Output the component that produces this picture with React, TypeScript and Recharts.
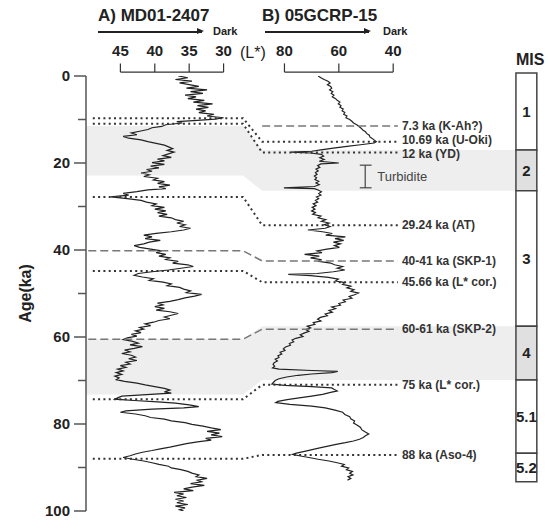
import React from 'react';
import {
  ComposedChart,
  Line,
  Area,
  XAxis,
  YAxis,
  ReferenceLine,
  ReferenceArea,
  ReferenceDot,
} from 'recharts';

const FONT = '"Liberation Sans", Arial, sans-serif';

// MD01-2407 colour record: [age (ka), L*]
const coreA: [number, number][] = [
  [0.0, 36.6], [0.4, 35.2], [0.8, 37.0], [1.2, 34.6], [1.6, 36.4], [2.0, 35.0], [2.4, 33.6], [2.8, 35.4],
  [3.2, 32.4], [3.6, 34.8], [4.0, 33.0], [4.4, 35.6], [4.8, 34.0], [5.2, 35.2], [5.6, 32.8], [6.0, 34.4],
  [6.4, 31.6], [6.8, 33.8], [7.2, 32.2], [7.6, 34.0], [8.0, 32.6], [8.4, 33.6], [8.8, 31.4], [9.2, 32.4],
  [9.6, 30.0], [9.9, 31.2], [10.2, 33.8], [10.5, 36.8], [10.8, 36.0], [11.2, 38.4], [11.6, 39.0], [11.9, 40.4],
  [12.3, 41.0], [12.7, 42.2], [13.1, 43.4], [13.5, 42.6], [13.9, 44.6], [14.3, 43.8], [14.7, 42.0], [15.1, 41.0],
  [15.5, 39.8], [15.9, 38.6], [16.3, 38.0], [16.7, 37.4], [17.1, 38.2], [17.5, 37.2], [17.9, 38.0], [18.3, 38.8],
  [18.7, 37.6], [19.1, 39.6], [19.5, 38.6], [19.9, 40.4], [20.3, 38.6], [20.7, 40.6], [21.1, 39.4], [21.5, 41.2],
  [21.9, 40.4], [22.3, 42.0], [22.7, 40.8], [23.1, 41.6], [23.5, 39.6], [23.9, 40.2], [24.3, 38.6], [24.7, 39.6],
  [25.1, 37.8], [25.5, 39.4], [25.9, 38.4], [26.2, 41.0], [26.6, 42.6], [27.0, 44.6], [27.4, 43.8], [27.8, 46.4],
  [28.2, 44.0], [28.6, 42.0], [29.0, 41.2], [29.4, 39.8], [29.8, 40.4], [30.2, 38.6], [30.6, 40.0], [31.0, 38.4],
  [31.4, 39.6], [31.8, 38.2], [32.2, 39.4], [32.6, 37.6], [33.0, 37.0], [33.4, 35.8], [33.8, 36.8], [34.2, 35.6],
  [34.6, 36.4], [35.0, 34.8], [35.4, 35.8], [35.8, 37.6], [36.2, 39.8], [36.6, 41.6], [37.0, 40.4], [37.4, 41.4],
  [37.8, 39.2], [38.2, 40.8], [38.6, 41.6], [39.0, 43.0], [39.4, 42.2], [39.8, 40.6], [40.2, 39.0], [40.6, 39.8],
  [41.0, 38.4], [41.4, 39.4], [41.8, 37.8], [42.2, 38.4], [42.6, 36.6], [43.0, 37.4], [43.4, 35.2], [43.8, 34.4],
  [44.2, 36.2], [44.6, 38.0], [45.0, 40.4], [45.4, 42.4], [45.8, 43.0], [46.2, 41.8], [46.6, 40.2], [47.0, 40.8],
  [47.4, 38.8], [47.8, 37.6], [48.2, 38.2], [48.6, 36.4], [49.0, 35.8], [49.4, 34.8], [49.8, 35.4], [50.2, 33.2],
  [50.6, 34.2], [51.0, 35.6], [51.4, 36.6], [51.8, 37.8], [52.2, 39.6], [52.6, 38.8], [53.0, 40.0], [53.4, 38.6],
  [53.8, 39.8], [54.2, 37.8], [54.6, 36.6], [55.0, 37.6], [55.4, 38.6], [55.8, 37.8], [56.2, 39.4], [56.6, 40.2],
  [57.0, 41.4], [57.4, 40.6], [57.8, 42.2], [58.2, 41.6], [58.6, 42.8], [59.0, 42.0], [59.4, 43.4], [59.8, 42.6],
  [60.2, 44.0], [60.6, 44.6], [61.0, 43.2], [61.4, 42.4], [61.8, 43.6], [62.2, 41.8], [62.6, 43.0], [63.0, 44.4],
  [63.4, 43.6], [63.8, 44.8], [64.2, 43.4], [64.6, 42.8], [65.0, 43.8], [65.4, 42.6], [65.8, 44.2], [66.2, 43.6],
  [66.6, 45.0], [67.0, 44.2], [67.4, 45.4], [67.8, 44.6], [68.2, 45.6], [68.6, 44.8], [69.0, 45.8], [69.4, 45.2],
  [69.8, 45.6], [70.2, 44.4], [70.6, 42.6], [71.0, 41.4], [71.4, 40.0], [71.8, 38.6], [72.2, 37.8], [72.6, 38.6],
  [72.9, 37.6], [73.2, 40.6], [73.6, 44.8], [74.0, 45.4], [74.3, 45.8], [74.6, 43.0], [74.9, 39.6], [75.2, 37.0],
  [75.6, 35.0], [76.0, 33.6], [76.3, 35.8], [76.6, 40.4], [77.0, 44.2], [77.3, 45.0], [77.7, 42.8], [78.1, 41.4],
  [78.5, 40.6], [78.9, 38.6], [79.3, 37.6], [79.7, 35.6], [80.1, 34.6], [80.5, 33.0], [80.9, 31.8], [81.3, 30.4],
  [81.7, 32.4], [82.1, 30.6], [82.5, 31.8], [82.9, 30.2], [83.3, 32.6], [83.7, 31.8], [84.1, 33.8], [84.5, 35.4],
  [84.9, 36.6], [85.3, 37.8], [85.7, 39.2], [86.1, 40.4], [86.5, 41.8], [86.9, 42.8], [87.3, 43.6], [87.7, 44.6],
  [88.1, 43.2], [88.5, 41.6], [88.9, 40.4], [89.3, 39.4], [89.7, 38.0], [90.1, 37.6], [90.5, 36.2], [90.9, 35.2],
  [91.3, 34.6], [91.7, 33.6], [92.1, 34.0], [92.5, 32.4], [92.9, 33.8], [93.3, 33.2], [93.7, 34.8], [94.1, 32.8],
  [94.5, 34.6], [94.9, 35.8], [95.3, 34.4], [95.7, 37.2], [96.1, 35.8], [96.5, 36.8], [96.9, 35.4], [97.3, 37.0],
  [97.7, 35.8], [98.1, 36.8], [98.5, 35.2], [98.9, 37.0], [99.3, 35.6], [99.7, 36.4], [100.0, 35.8],
];

// 05GCRP-15 colour record, read against the same vertical scale: [age (ka), L*]
const coreB: [number, number][] = [
  [0.0, 67.6], [0.4, 66.6], [0.8, 65.4], [1.2, 64.0], [1.6, 63.2], [2.0, 64.2], [2.4, 63.0], [2.8, 62.6],
  [3.2, 63.4], [3.6, 62.2], [4.0, 62.8], [4.4, 61.8], [4.8, 62.4], [5.2, 61.2], [5.6, 60.6], [6.0, 59.6],
  [6.4, 60.2], [6.8, 59.2], [7.2, 59.6], [7.6, 58.4], [8.0, 58.8], [8.4, 57.8], [8.8, 58.2], [9.2, 57.0],
  [9.6, 57.4], [10.0, 56.0], [10.4, 55.2], [10.8, 54.6], [11.2, 53.4], [11.6, 52.6], [12.0, 51.8], [12.4, 51.2],
  [12.8, 50.2], [13.2, 49.8], [13.6, 48.8], [14.0, 48.6], [14.4, 47.6], [14.8, 46.8], [15.1, 46.2], [15.4, 47.0],
  [15.8, 52.0], [16.2, 57.0], [16.6, 62.0], [17.0, 66.6], [17.3, 70.0], [17.5, 77.6], [17.7, 70.4], [18.0, 66.4],
  [18.4, 65.6], [18.8, 67.0], [19.2, 65.4], [19.6, 67.2], [20.0, 60.0], [20.2, 66.6], [20.6, 67.8], [21.0, 67.0],
  [21.4, 68.4], [21.8, 67.6], [22.2, 68.6], [22.6, 68.0], [23.0, 69.0], [23.4, 68.2], [23.8, 68.8], [24.2, 67.4],
  [24.6, 68.4], [25.0, 67.2], [25.4, 69.0], [25.7, 80.2], [25.9, 69.0], [26.2, 67.6], [26.6, 66.4], [27.0, 67.4],
  [27.4, 66.6], [27.8, 68.2], [28.2, 67.4], [28.6, 68.6], [29.0, 67.8], [29.4, 69.4], [29.8, 68.4], [30.2, 69.8],
  [30.6, 68.8], [31.0, 70.0], [31.4, 68.6], [31.8, 69.6], [32.2, 66.6], [32.6, 67.6], [33.0, 64.8], [33.4, 66.4],
  [33.8, 63.6], [34.2, 65.4], [34.6, 63.2], [35.0, 65.0], [35.4, 71.4], [35.8, 66.0], [36.2, 62.4], [36.6, 64.8],
  [37.0, 57.6], [37.4, 61.4], [37.8, 58.2], [38.2, 62.0], [38.6, 59.4], [39.0, 61.6], [39.4, 59.8], [39.8, 64.4],
  [40.2, 68.0], [40.6, 66.2], [41.0, 72.6], [41.4, 67.2], [41.8, 70.4], [42.2, 66.6], [42.6, 67.4], [43.0, 63.0],
  [43.4, 61.6], [43.8, 58.6], [44.2, 60.6], [44.6, 57.8], [45.0, 62.0], [45.4, 68.0], [45.6, 78.6], [45.9, 70.4],
  [46.3, 63.8], [46.7, 60.2], [47.1, 61.2], [47.5, 57.8], [47.9, 58.6], [48.3, 55.6], [48.7, 57.0], [49.1, 54.4],
  [49.5, 55.6], [49.9, 52.8], [50.3, 54.2], [50.7, 56.2], [51.1, 55.2], [51.5, 58.4], [51.9, 57.6], [52.3, 60.0],
  [52.7, 59.4], [53.1, 62.6], [53.5, 61.2], [53.9, 63.6], [54.3, 62.4], [54.7, 65.0], [55.1, 64.2], [55.5, 66.8],
  [55.9, 67.8], [56.3, 66.6], [56.7, 69.4], [57.1, 68.8], [57.5, 71.6], [57.9, 70.4], [58.3, 72.2], [58.7, 71.0],
  [59.1, 72.8], [59.5, 74.2], [59.9, 73.2], [60.3, 75.8], [60.7, 77.2], [61.1, 76.6], [61.5, 78.2], [61.9, 77.8],
  [62.3, 79.6], [62.7, 80.4], [63.1, 79.8], [63.5, 81.6], [63.9, 81.0], [64.3, 82.4], [64.7, 82.0], [65.1, 83.4],
  [65.5, 82.6], [65.9, 83.8], [66.3, 84.2], [66.7, 83.6], [67.1, 84.4], [67.4, 82.0], [67.7, 70.0], [67.9, 60.4],
  [68.2, 62.6], [68.5, 70.0], [68.8, 75.0], [69.2, 79.2], [69.6, 82.0], [70.0, 83.4], [70.4, 84.0], [70.8, 84.6],
  [71.1, 80.0], [71.4, 70.0], [71.7, 62.6], [72.0, 61.8], [72.4, 60.6], [72.8, 63.4], [73.2, 66.0], [73.6, 70.0],
  [74.0, 74.6], [74.4, 79.0], [74.8, 82.4], [75.1, 83.2], [75.5, 78.0], [75.9, 70.0], [76.3, 65.0], [76.8, 61.4],
  [77.3, 58.6], [77.8, 57.8], [78.3, 56.0], [78.8, 55.6], [79.3, 54.2], [79.8, 54.6], [80.3, 53.2], [80.8, 52.0],
  [81.3, 51.6], [81.8, 50.4], [82.3, 49.0], [82.7, 50.2], [83.1, 51.0], [83.5, 52.4], [83.9, 54.6], [84.3, 57.6],
  [84.7, 61.0], [85.1, 64.0], [85.5, 67.0], [85.9, 69.8], [86.3, 72.6], [86.7, 75.6], [87.0, 77.0], [87.3, 74.6],
  [87.7, 71.0], [88.1, 67.6], [88.5, 63.6], [88.9, 60.6], [89.3, 58.0], [89.7, 59.0], [90.1, 56.4], [90.5, 57.2],
  [90.9, 55.0], [91.3, 56.0], [91.7, 54.8], [92.1, 56.6], [92.5, 55.6], [92.9, 56.8],
];

const ticksA = [45, 40, 35, 30];
const ticksB = [80, 60, 40];
const ageTicks = [0, 10, 20, 30, 40, 50, 60, 70, 80, 90, 100];

// tie points between the two cores
const tieLabels = [
  '7.3 ka (K-Ah?)',
  '10.69 ka (U-Oki)',
  '12 ka (YD)',
  '29.24 ka (AT)',
  '40-41 ka (SKP-1)',
  '45.66 ka (L* cor.)',
  '60-61 ka (SKP-2)',
  '75 ka (L* cor.)',
  '88 ka (Aso-4)',
];
const tieAgeA: (number | null)[] = [null, 9.7, 11.0, 27.8, 40.2, 44.8, 60.5, 74.3, 88.0];
const tieAgeB = [11.5, 15.1, 17.6, 34.3, 42.5, 47.4, 58.2, 71.0, 87.1];
// where each label sits (the two close ones are pulled apart a little)
const tieLabelAge = [11.5, 14.7, 17.9, 34.3, 42.5, 47.4, 58.2, 71.0, 87.1];
const tieDashed = [true, false, false, false, true, false, true, false, false];

// marine isotope stages (boundaries on the core B scale)
const misNames = ['1', '2', '3', '4', '5.1', '5.2'];
const misBounds = [-0.7, 17.0, 26.4, 57.5, 69.9, 86.7, 93.3];
const misShaded = [false, true, false, true, false, false];

// glacial bands in core A
const bandA2 = [11.5, 22.9];
const bandA4 = [60.5, 73.2];

const turbidite = [20.5, 25.7];

// stops on the hidden guide axis (0 = age axis, 100 = right edge of plot)
const G = { start: 1.5, bendA: 34.6, bendB: 38.8, end: 68.7, misL: 94.7, misR: 99.3, turb: 61.5 };
const BRACKET = [-0.9, -2.9];

const dataA = coreA.map(([age, l]) => ({ age, l }));
const dataB = coreB.map(([age, l]) => ({ age, l }));

const band2 = [
  { age: bandA2[0], g: [0, G.bendA] },
  { age: misBounds[1], g: [0, G.bendB] },
  { age: misBounds[1], g: [0, G.misL] },
  { age: bandA2[1], g: [0, G.misL] },
  { age: bandA2[1], g: [G.bendA, G.misL] },
  { age: misBounds[2], g: [G.bendB, G.misL] },
];
const band4 = [
  { age: misBounds[3], g: [G.bendB, G.misL] },
  { age: bandA4[0], g: [G.bendA, G.misL] },
  { age: bandA4[0], g: [0, G.misL] },
  { age: misBounds[4], g: [0, G.misL] },
  { age: misBounds[4], g: [0, G.bendB] },
  { age: bandA4[1], g: [0, G.bendA] },
];

const tieData = tieAgeB.map((b, i) => {
  const a = tieAgeA[i];
  if (a == null) return [{ g: G.bendB, age: b }, { g: G.end, age: b }];
  return [
    { g: tieDashed[i] ? 0.5 : G.start, age: a },
    { g: G.bendA, age: a },
    { g: G.bendB, age: b },
    { g: G.end, age: b },
  ];
});

const renderAgeTick = (props: any) => {
  const { x, y, payload } = props;
  const major = payload.value % 20 === 0;
  return (
    <g>
      <line x1={x - (major ? 12 : 8)} x2={x} y1={y} y2={y} stroke="#555" strokeWidth={1.5} />
      {major && (
        <text x={x - 16} y={y} dy={5} textAnchor="end" fontSize={15} fontWeight="bold" fill="#222" fontFamily={FONT}>
          {payload.value}
        </text>
      )}
    </g>
  );
};

const Arrow = ({ left, width }: { left: number; width: number }) => (
  <div style={{ position: 'absolute', left, top: 31, width, height: 1.5, background: '#222' }}>
    <div
      style={{
        position: 'absolute',
        right: -2,
        top: -3,
        width: 0,
        height: 0,
        borderTop: '3.5px solid transparent',
        borderBottom: '3.5px solid transparent',
        borderLeft: '7px solid #222',
      }}
    />
  </div>
);

const txt = (left: number, top: number, size: number, bold = true): React.CSSProperties => ({
  position: 'absolute',
  left,
  top,
  fontSize: size,
  lineHeight: 1,
  fontWeight: bold ? 'bold' : 'normal',
  whiteSpace: 'nowrap',
  color: '#222',
});

export default function App() {
  return (
    <div style={{ position: 'absolute', left: 0, top: 0, width: 548, height: 523, background: '#fff', fontFamily: FONT }}>
      <ComposedChart width={548} height={523} layout="vertical" margin={{ top: 76, right: 8, bottom: 12, left: 0 }}>
        <YAxis
          type="number"
          dataKey="age"
          domain={[0, 100]}
          ticks={ageTicks}
          interval={0}
          width={86}
          allowDataOverflow
          axisLine={{ stroke: '#555', strokeWidth: 1.5 }}
          tickLine={false}
          tickSize={0}
          tickMargin={0}
          tick={renderAgeTick}
          label={{
            value: 'Age(ka)',
            angle: -90,
            position: 'insideLeft',
            offset: 25,
            style: { textAnchor: 'middle', fontSize: 16, fontWeight: 'bold', fill: '#222', fontFamily: FONT },
          }}
        />
        <XAxis xAxisId="a" type="number" domain={[-16, 50]} reversed allowDataOverflow hide />
        <XAxis xAxisId="b" type="number" domain={[-14, 153]} reversed allowDataOverflow hide />
        <XAxis xAxisId="g" type="number" domain={[0, 100]} hide allowDataOverflow />

        <Area data={band2} xAxisId="g" dataKey="g" type="linear" stroke="none" fill="#eeeeee" fillOpacity={1} isAnimationActive={false} />
        <Area data={band4} xAxisId="g" dataKey="g" type="linear" stroke="none" fill="#eeeeee" fillOpacity={1} isAnimationActive={false} />

        <Line data={dataA} xAxisId="a" dataKey="l" type="linear" stroke="#222" strokeWidth={1.2} dot={false} activeDot={false} isAnimationActive={false} />
        <Line data={dataB} xAxisId="b" dataKey="l" type="linear" stroke="#222" strokeWidth={1.2} dot={false} activeDot={false} isAnimationActive={false} />

        {tieData.map((pts, i) => (
          <Line
            key={`tie-${i}`}
            data={pts}
            xAxisId="g"
            dataKey="g"
            type="linear"
            stroke={tieDashed[i] ? '#777' : '#333'}
            strokeWidth={tieDashed[i] ? 1.5 : 2}
            strokeDasharray={tieDashed[i] ? '8 4' : '2 3.3'}
            dot={false}
            activeDot={false}
            isAnimationActive={false}
          />
        ))}

        {tieLabels.map((label, i) => (
          <ReferenceDot
            key={`lab-${i}`}
            xAxisId="g"
            x={G.end}
            y={tieLabelAge[i]}
            r={0}
            fill="none"
            stroke="none"
            ifOverflow="visible"
            label={{ value: label, position: 'right', offset: 4, fontSize: 12, fontWeight: 'bold', fill: '#333', fontFamily: FONT }}
          />
        ))}

        <ReferenceLine
          xAxisId="g"
          segment={[{ x: G.turb, y: turbidite[0] }, { x: G.turb, y: turbidite[1] }]}
          stroke="#444"
          strokeWidth={1.2}
          label={{ value: 'Turbidite', position: 'right', offset: 12, fontSize: 13, fill: '#444', fontFamily: FONT }}
        />
        {turbidite.map((t, i) => (
          <ReferenceLine
            key={`cap-${i}`}
            xAxisId="g"
            segment={[{ x: G.turb - 1.2, y: t }, { x: G.turb + 1.4, y: t }]}
            stroke="#444"
            strokeWidth={1.2}
          />
        ))}

        {[
          { id: 'a', ticks: ticksA },
          { id: 'b', ticks: ticksB },
        ].map(({ id, ticks }) => (
          <React.Fragment key={`br-${id}`}>
            <ReferenceLine
              xAxisId={id}
              segment={[{ x: ticks[0], y: BRACKET[0] }, { x: ticks[ticks.length - 1], y: BRACKET[0] }]}
              ifOverflow="visible"
              stroke="#333"
              strokeWidth={1.2}
            />
            {ticks.map((t) => (
              <ReferenceLine
                key={`bt-${id}-${t}`}
                xAxisId={id}
                segment={[{ x: t, y: BRACKET[0] }, { x: t, y: BRACKET[1] }]}
                ifOverflow="visible"
                stroke="#333"
                strokeWidth={1.2}
                label={{ value: t, position: 'top', offset: 7, fontSize: 15, fontWeight: 'bold', fill: '#222', fontFamily: FONT }}
              />
            ))}
          </React.Fragment>
        ))}

        {misNames.map((name, i) => (
          <ReferenceArea
            key={`mis-${name}`}
            xAxisId="g"
            x1={G.misL}
            x2={G.misR}
            y1={misBounds[i]}
            y2={misBounds[i + 1]}
            ifOverflow="visible"
            fill={misShaded[i] ? '#e0e0e0' : '#ffffff'}
            fillOpacity={1}
            stroke="#444"
            strokeWidth={1.5}
            label={{ value: name, position: 'center', fontSize: 15, fontWeight: 'bold', fill: '#222', fontFamily: FONT }}
          />
        ))}
      </ComposedChart>

      <div style={txt(98, 7, 17)}>A) MD01-2407</div>
      <div style={txt(262, 7, 17)}>B) 05GCRP-15</div>
      <Arrow left={98} width={104} />
      <Arrow left={265} width={104} />
      <div style={txt(213, 26, 11)}>Dark</div>
      <div style={txt(383, 26, 11)}>Dark</div>
      <div style={txt(240, 45, 16, false)}>(L*)</div>
      <div style={txt(516, 52, 16)}>MIS</div>
    </div>
  );
}
